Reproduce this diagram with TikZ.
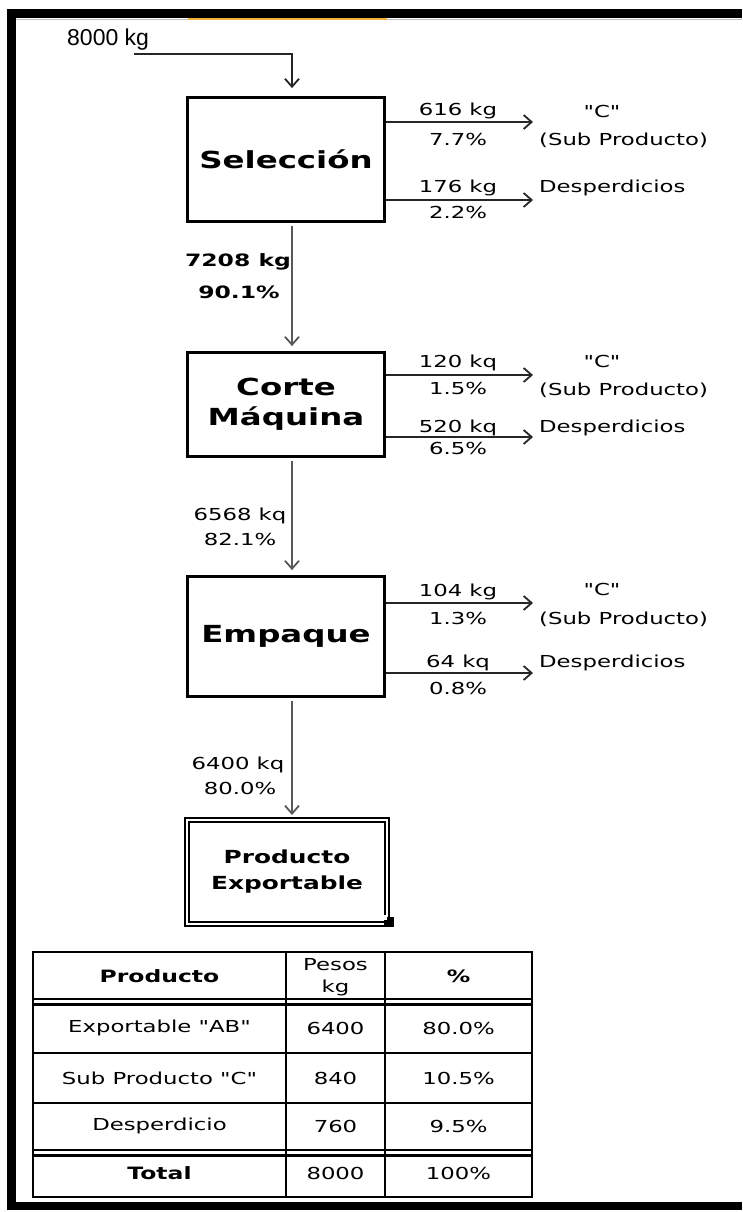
\documentclass[tikz,border=0pt]{standalone}
\usepackage{fontspec}
\setmainfont{DejaVu Sans}[FakeStretch=1.38, Ligatures=TeXOff]
\newfontfamily\arialf{Liberation Sans}
\usetikzlibrary{arrows.meta}
\newcommand\lblf{\fontsize{16.5}{19}\selectfont}
\newcommand\lblb{\fontsize{17}{20}\selectfont\bfseries}
\newcommand\bigb{\fontsize{23.5}{30}\selectfont\bfseries}
\newcommand\prodb{\fontsize{18}{26}\selectfont\bfseries}
\newcommand\qq{\symbol{34}}
\definecolor{xlorange}{HTML}{F2B23A}
\begin{document}
\begin{tikzpicture}[x=1pt,y=-1pt,
  proc/.style={draw, line width=2.8pt, minimum width=197pt, inner sep=0pt, align=center, font=\bigb},
  rarr/.style={draw=black!85, line width=2pt, -{Straight Barb[length=8pt,width=14pt,line width=1.8pt]}},
  varr/.style={draw=black!65, line width=2.4pt, -{Straight Barb[length=8pt,width=14pt,line width=1.8pt]}},
  lbl/.style={inner sep=0pt, font=\lblf},
  blbl/.style={inner sep=0pt, font=\lblb},
  tline/.style={line width=2.5pt},
]
\useasboundingbox (0,0) rectangle (742,1212);
\fill[white] (0,0) rectangle (742,1212);
% frame
\fill[black] (8,9) rectangle (742,18);
\draw[black!25, line width=1pt] (16,19.5) -- (742,19.5);
\fill[xlorange] (188,18) rectangle (387,20.5);
\fill[black] (7,9) rectangle (16,1210);
\fill[black] (7,1202) rectangle (742,1210);

% process boxes
\node[proc, minimum height=124pt] (sel) at (286,159.5) {Selección};
\node[proc, minimum height=104pt] (cor) at (286,404.5) {Corte\\Máquina};
\node[proc, minimum height=120pt] (emp) at (286,636.5) {Empaque};
\node[draw, double, double distance=2.6pt, line width=2pt, minimum width=200pt, minimum height=104pt,
      inner sep=0pt, align=center, font=\prodb] (pex) at (287,872) {Producto\\Exportable};
\fill[black] (384,917) rectangle (394,927);
\fill[white] (382,915) rectangle (386.5,919.5);

% axis of vertical flow
\coordinate (ax) at (292,0);

% input
\node[anchor=west, inner sep=0pt, font=\arialf\fontsize{23}{26}\selectfont] (in) at (67,40) {8000 kg};
\coordinate (i0) at (134,54);
\draw[varr, draw=black!85, line width=2pt, shorten >=8pt] (i0) -- (i0 -| ax) -- (sel.north -| ax);

% vertical flows
\draw[varr, shorten <=3pt, shorten >=5pt] (sel.south -| ax) -- (cor.north -| ax);
\draw[varr, shorten <=3pt, shorten >=5pt] (cor.south -| ax) -- (emp.north -| ax);
\draw[varr, shorten <=3pt, shorten >=4pt] (emp.south -| ax) -- (pex.north -| ax);

\node[blbl] (l1a) at (238,262) {7208 kg};
\node[blbl] (l1b) at (239,292) {90.1\%};
\node[lbl] (l2a) at (240,516) {6568 kq};
\node[lbl] (l2b) at (240,539) {82.1\%};
\node[lbl] (l3a) at (238,765) {6400 kq};
\node[lbl] (l3b) at (240,788) {80.0\%};

% side outputs
\coordinate (s1) at (533,122); \coordinate (s2) at (533,200);
\coordinate (c1) at (533,375); \coordinate (c2) at (533,437);
\coordinate (e1) at (533,603); \coordinate (e2) at (533,673);
\draw[rarr] (sel.east |- s1) -- (s1);
\draw[rarr] (sel.east |- s2) -- (s2);
\draw[rarr] (cor.east |- c1) -- (c1);
\draw[rarr] (cor.east |- c2) -- (c2);
\draw[rarr] (emp.east |- e1) -- (e1);
\draw[rarr] (emp.east |- e2) -- (e2);

\node[lbl] (sa) at (458,111) {616 kg};
\node[lbl] (sb) at (458,139) {7.7\%};
\node[lbl] (sc) at (458,188) {176 kg};
\node[lbl] (sd) at (458,212) {2.2\%};
\node[lbl] (sC) at (602,111) {\qq C\qq};
\node[lbl, anchor=west] (sS) at (539,140) {(Sub Producto)};
\node[lbl, anchor=west] (sD) at (539,188) {Desperdicios};

\node[lbl] (ca) at (458,363) {120 kq};
\node[lbl] (cb) at (458,388) {1.5\%};
\node[lbl] (cc) at (458,428) {520 kq};
\node[lbl] (cd) at (458,448) {6.5\%};
\node[lbl] (cC) at (602,361) {\qq C\qq};
\node[lbl, anchor=west] (cS) at (539,390) {(Sub Producto)};
\node[lbl, anchor=west] (cD) at (539,428) {Desperdicios};

\node[lbl] (ea) at (458,592) {104 kg};
\node[lbl] (eb) at (458,618) {1.3\%};
\node[lbl] (ec) at (458,663) {64 kq};
\node[lbl] (ed) at (458,688) {0.8\%};
\node[lbl] (eC) at (602,589) {\qq C\qq};
\node[lbl, anchor=west] (eS) at (539,619) {(Sub Producto)};
\node[lbl, anchor=west] (eD) at (539,663) {Desperdicios};

% table
\draw[tline] (33,952) rectangle (532,1197);
\draw[tline] (286,952) -- (286,1197);
\draw[tline] (385,952) -- (385,1197);
\draw[tline] (33,999) -- (532,999);
\draw[tline] (33,1004.5) -- (532,1004.5);
\draw[tline] (33,1053) -- (532,1053);
\draw[tline] (33,1103) -- (532,1103);
\draw[tline] (33,1150) -- (532,1150);
\draw[tline] (33,1155.5) -- (532,1155.5);

\node[blbl] (h1) at (159.5,976) {Producto};
\node[lbl] (h2a) at (335.5,965) {Pesos};
\node[lbl] (h2b) at (335.5,988) {kg};
\node[blbl] (h3) at (458.5,976) {\%};
\node[lbl] (r1a) at (159.5,1028) {Exportable \qq AB\qq};
\node[lbl] (r1b) at (335.5,1028) {6400};
\node[lbl] (r1c) at (458.5,1028) {80.0\%};
\node[lbl] (r2a) at (159.5,1078) {Sub Producto \qq C\qq};
\node[lbl] (r2b) at (335.5,1078) {840};
\node[lbl] (r2c) at (458.5,1078) {10.5\%};
\node[lbl] (r3a) at (159.5,1126) {Desperdicio};
\node[lbl] (r3b) at (335.5,1126) {760};
\node[lbl] (r3c) at (458.5,1126) {9.5\%};
\node[blbl] (r4a) at (159.5,1173) {Total};
\node[lbl] (r4b) at (335.5,1173) {8000};
\node[lbl] (r4c) at (458.5,1173) {100\%};
\end{tikzpicture}
\end{document}
